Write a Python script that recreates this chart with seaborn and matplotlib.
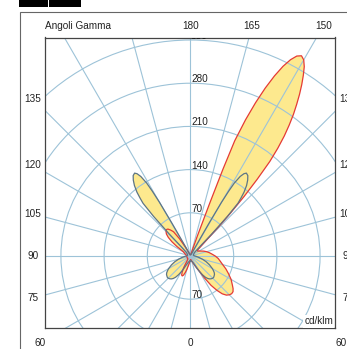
import numpy as np
import matplotlib
matplotlib.use("Agg")
import matplotlib.pyplot as plt
from matplotlib.patches import Circle, Rectangle
import seaborn as sns

sns.set_style("white")
plt.rcParams["font.family"] = ["Liberation Sans", "DejaVu Sans"]

# gamma angles (deg, 0 = straight down, 180 = straight up) and intensities (cd/klm)
gamma_c0 = [0, 5, 10, 15, 20, 25, 30, 32.5, 35, 37.5, 40, 42.5, 45, 47.5, 50, 52.5, 55,
            60, 65, 70, 75, 80, 85, 90, 95, 100, 105, 110, 115, 120, 125, 130, 132.5,
            135, 136, 137, 138, 139, 140, 141, 142, 143, 144, 145, 146, 147, 148, 149,
            150, 151, 152, 153, 154, 155, 156, 157, 158, 159, 159.5, 160, 161, 162, 163,
            165, 170, 175, 180]
c0_red = [6, 6, 7, 9, 12, 18, 28, 42, 58, 70, 80, 86, 89, 90.5, 90, 87, 83,
          76, 68, 61, 54, 49, 45, 40, 35, 31, 27, 23, 19, 16, 14, 15, 22,
          40, 65, 95, 130, 165, 200, 225, 247, 266, 284, 300, 316, 331, 345, 358,
          367, 371, 367, 357, 342, 322, 298, 270, 238, 200, 150, 90, 35, 15, 8,
          5, 3, 2, 2]

gamma_c180 = [0, 5, 10, 15, 17.5, 20, 22.5, 25, 27.5, 30, 32.5, 35, 40, 45, 50, 60,
              70, 80, 90, 100, 110, 115, 120, 122.5, 125, 127.5, 130, 132.5, 135, 137.5,
              140, 142.5, 145, 147.5, 150, 152.5, 155, 160, 170, 180]
c180_red = [6, 8, 13, 22, 28, 33, 35, 34, 29, 22, 15, 10, 7, 6, 6, 6,
            6, 6, 6, 7, 9, 11, 13, 17, 27, 38, 47, 53, 56, 58,
            57, 53, 48, 33, 17, 8, 4, 2, 2, 2]

gamma_c90 = [0, 10, 20, 25, 27.5, 30, 32.5, 35, 37.5, 40, 42.5, 45, 47.5, 50, 52.5, 55,
             57.5, 60, 65, 70, 75, 80, 85, 90, 100, 110, 120, 125, 130, 132.5, 135, 136,
             137, 138, 139, 140, 141.5, 143, 144.5, 146, 147, 148, 149, 149.5, 150, 150.5,
             151, 152, 153, 155, 160, 170, 180]
c90_gray = [8, 8, 11, 16, 22, 29, 36, 42, 46, 48.5, 50, 51, 51, 50, 49, 47,
            44, 41, 34, 27, 20, 14, 10, 7, 5, 5, 6, 7, 8, 12, 22, 50,
            88, 115, 125, 135, 146, 154, 160, 162, 159, 152, 138, 122, 100, 62,
            32, 13, 7, 4, 3, 2, 2]
gamma_c270 = gamma_c90
c270_gray = c90_gray

rings = [70, 140, 210, 280, 350]
ticks_left = [135, 120, 105, 90, 75, 60]
ticks_right = [180, 165, 150, 135, 120, 105, 90, 75, 60]

yellow = "#fde98e"
red = "#e53a34"
slate = "#5d7585"
gridc = "#9dc3d8"


def to_xy(g_right, v_right, g_left, v_left):
    gr = np.radians(g_right)
    gl = np.radians(g_left)[::-1]
    r = np.asarray(v_right, dtype=float)
    l = np.asarray(v_left, dtype=float)[::-1]
    x = np.concatenate([r * np.sin(gr), -l * np.sin(gl)])
    y = np.concatenate([-r * np.cos(gr), -l * np.cos(gl)])
    return np.append(x, x[0]), np.append(y, y[0])


def edge_pos(side, a):
    dx = side * np.sin(np.radians(a))
    dy = -np.cos(np.radians(a))
    ts = []
    if abs(dx) > 1e-9:
        ts.append(255 / abs(dx))
    if dy > 1e-9:
        ts.append(373 / dy)
    if dy < -1e-9:
        ts.append(141 / -dy)
    t = min(ts)
    return t * dx, t * dy


fig = plt.figure(figsize=(3.47, 3.49), dpi=100)
ax = fig.add_axes([45 / 347, 21 / 349, 290 / 347, 290.5 / 349])
ax.set_xlim(-235.8, 234.2)
ax.set_ylim(-116.7, 354.1)
ax.set_xticks([])
ax.set_yticks([])
for s in ax.spines.values():
    s.set_color("#444444")
    s.set_linewidth(0.9)

x_red, y_red = to_xy(gamma_c0, c0_red, gamma_c180, c180_red)
x_gray, y_gray = to_xy(gamma_c90, c90_gray, gamma_c270, c270_gray)
ax.fill(x_red, y_red, color=yellow, lw=0, zorder=1)
ax.fill(x_gray, y_gray, color=yellow, lw=0, zorder=1)

# grid
for r in rings:
    ax.add_patch(Circle((0, 0), r, fill=False, ec=gridc, lw=0.8, zorder=2))
for a in range(0, 360, 15):
    t = np.radians(a)
    ax.plot([0, 700 * np.sin(t)], [0, -700 * np.cos(t)], color=gridc, lw=0.8, zorder=2)

sns.lineplot(x=x_red, y=y_red, sort=False, estimator=None, color=red, lw=0.9, ax=ax, zorder=4)
sns.lineplot(x=x_gray, y=y_gray, sort=False, estimator=None, color=slate, lw=0.9, ax=ax, zorder=5)

fs = 7.2
for r in rings[:4]:
    ax.text(1, r + 1.5, str(r), fontsize=fs, color="#222222", ha="left", va="baseline", zorder=6)
ax.text(1, -70 + 1.5, "70", fontsize=fs, color="#222222", ha="left", va="baseline", zorder=6)
ax.text(1, 351, "350", fontsize=fs, color="#111111", ha="left", va="baseline", zorder=6, clip_on=True)

for a in ticks_left:
    px, py = edge_pos(-1, a)
    ax.text(px, py, str(a), fontsize=fs, color="#222222", ha="center", va="center", clip_on=False)
for a in ticks_right:
    px, py = edge_pos(1, a)
    ax.text(px, py, str(a), fontsize=fs, color="#222222", ha="center", va="center", clip_on=False)
px, py = edge_pos(1, 0)
ax.text(px, py, "0", fontsize=fs, color="#222222", ha="center", va="center", clip_on=False)

ax.text(-235.8, 373, "Angoli Gamma", fontsize=fs, color="#222222", ha="left", va="center", clip_on=False)
ax.text(231, -111, "cd/klm", fontsize=fs, color="#222222", ha="right", va="baseline", zorder=7,
        bbox=dict(facecolor="white", edgecolor="none", pad=0.8))

# outer frame and header tabs
fig.add_artist(Rectangle((19.5 / 347, -0.2), 2, 1.2 - 12.3 / 349, fill=False,
                         ec="#666666", lw=0.8, transform=fig.transFigure))
fig.add_artist(Rectangle((19.3 / 347, 1 - 6.7 / 349), 29 / 347, 0.05, fc="black", ec="none",
                         transform=fig.transFigure))
fig.add_artist(Rectangle((49.3 / 347, 1 - 6.7 / 349), 31.4 / 347, 0.05, fc="black", ec="none",
                         transform=fig.transFigure))

fig.savefig("out.png", dpi=100)
